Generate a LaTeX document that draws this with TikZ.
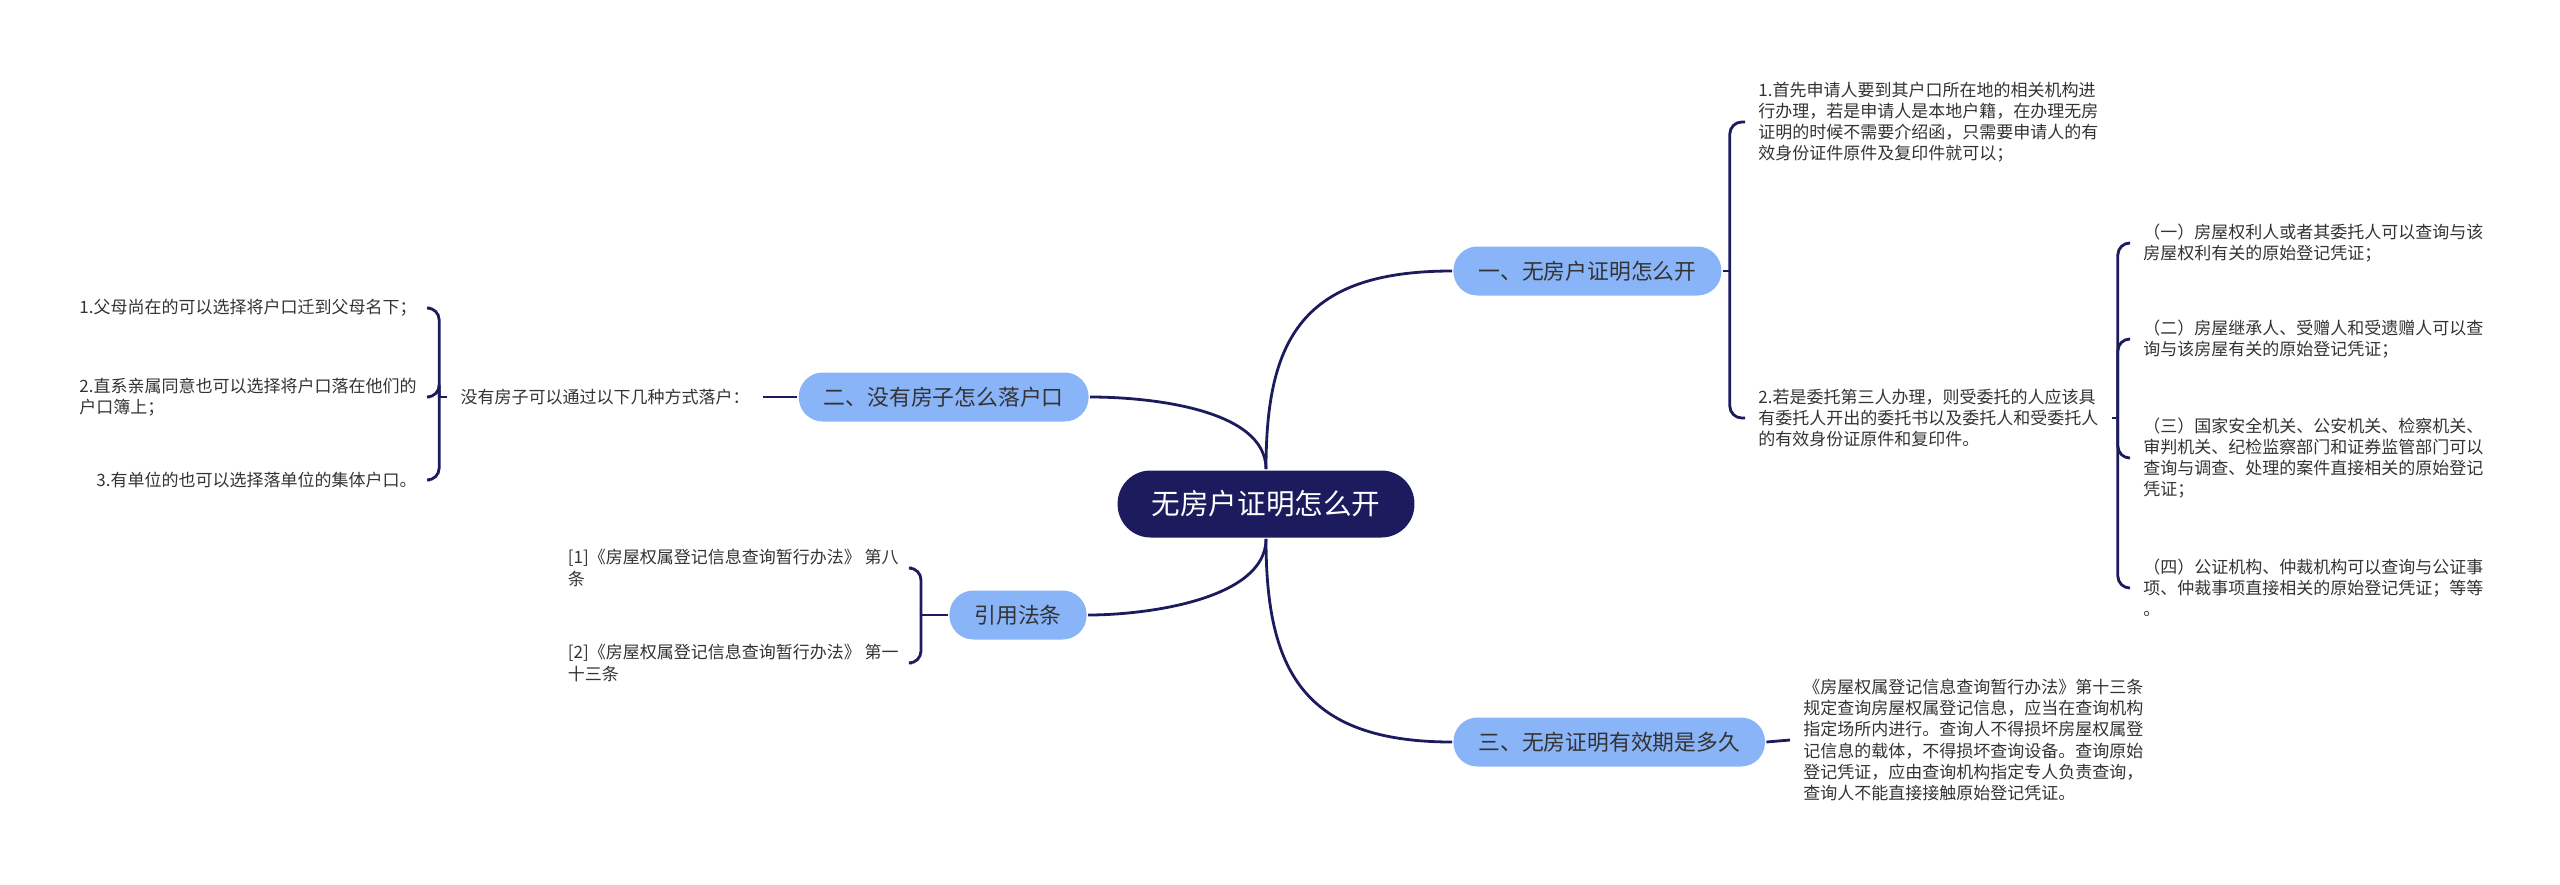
\documentclass[tikz,border=0pt]{standalone}
\usepackage{fontspec}
\setmainfont{Noto Sans CJK SC}
\definecolor{xanhdam}{HTML}{1B1B5E}
\definecolor{xanhnhat}{HTML}{8AB4F8}
\definecolor{chu}{HTML}{333333}
\begin{document}
\begin{tikzpicture}[x=0.5pt, y=-0.5pt, line width=1.4pt, draw=xanhdam,
	tam/.style={fill=xanhdam, text=white, rounded corners=16.5pt, minimum height=33.5pt, inner xsep=17pt, font=\fontsize{14.3pt}{16pt}\selectfont},
	nhanh/.style={fill=xanhnhat, text=chu, rounded corners=12pt, minimum height=24.5pt, inner xsep=12.5pt, font=\fontsize{10.9pt}{13pt}\selectfont},
	la/.style={text=chu, align=left, inner xsep=6pt, inner ysep=1pt, font=\fontsize{8.5pt}{10.6pt}\selectfont},
	noi/.style={draw=xanhdam, rounded corners=6pt}]
	\useasboundingbox (0,0) rectangle (2560,884);
	\node[tam] (goc) at (1266,504) {无房户证明怎么开};
	\node[nhanh, anchor=west] (n1) at (1452,271) {一、无房户证明怎么开};
	\node[nhanh, anchor=east] (n2) at (1090,397) {二、没有房子怎么落户口};
	\node[nhanh, anchor=east] (n3) at (1088,615) {引用法条};
	\node[nhanh, anchor=west] (n4) at (1452,742) {三、无房证明有效期是多久};
	\draw (goc.north) .. controls +(0,-130) and +(-150,0) .. (n1.west);
	\draw (goc.north) .. controls +(0,-60) and +(60,0) .. (n2.east);
	\draw (goc.south) .. controls +(0,60) and +(60,0) .. (n3.east);
	\draw (goc.south) .. controls +(0,130) and +(-150,0) .. (n4.west);
	\node[la, anchor=west] (n1a) at (1745,122) {1.首先申请人要到其户口所在地的相关机构进\\行办理，若是申请人是本地户籍，在办理无房\\证明的时候不需要介绍函，只需要申请人的有\\效身份证件原件及复印件就可以；};
	\node[la, anchor=west] (n1b) at (1745,418) {2.若是委托第三人办理，则受委托的人应该具\\有委托人开出的委托书以及委托人和受委托人\\的有效身份证原件和复印件。};
	\coordinate (j1) at ([xshift=3.5pt]n1.east);
	\draw (n1.east) -- (j1);
	\draw[noi] (j1) |- (n1a.west);
	\draw[noi] (j1) |- (n1b.west);
	\node[la, anchor=west] (n1b1) at (2130,243) {（一）房屋权利人或者其委托人可以查询与该\\房屋权利有关的原始登记凭证；};
	\node[la, anchor=west] (n1b2) at (2130,339) {（二）房屋继承人、受赠人和受遗赠人可以查\\询与该房屋有关的原始登记凭证；};
	\node[la, anchor=west] (n1b3) at (2130,458) {（三）国家安全机关、公安机关、检察机关、\\审判机关、纪检监察部门和证券监管部门可以\\查询与调查、处理的案件直接相关的原始登记\\凭证；};
	\node[la, anchor=west] (n1b4) at (2130,588) {（四）公证机构、仲裁机构可以查询与公证事\\项、仲裁事项直接相关的原始登记凭证；等等\\。};
	\coordinate (j2) at ([xshift=3pt]n1b.east);
	\draw (n1b.east) -- (j2);
	\foreach \i in {1,...,4} \draw[noi] (j2) |- (n1b\i.west);
	\node[la, anchor=west] (n4a) at (1790,740) {《房屋权属登记信息查询暂行办法》第十三条\\规定查询房屋权属登记信息，应当在查询机构\\指定场所内进行。查询人不得损坏房屋权属登\\记信息的载体，不得损坏查询设备。查询原始\\登记凭证，应由查询机构指定专人负责查询，\\查询人不能直接接触原始登记凭证。};
	\draw (n4.east) -- (n4a.west);
	\node[la, anchor=east] (n2s) at (763,397) {没有房子可以通过以下几种方式落户：};
	\draw (n2.west) -- (n2s.east);
	\node[la, anchor=east] (n2a) at (430,308) {1.父母尚在的可以选择将户口迁到父母名下；};
	\node[la, anchor=east] (n2b) at (430,397) {2.直系亲属同意也可以选择将户口落在他们的\\户口簿上；};
	\node[la, anchor=east] (n2c) at (430,480) {3.有单位的也可以选择落单位的集体户口。};
	\coordinate (j3) at ([xshift=-4pt]n2s.west);
	\draw (n2s.west) -- (j3);
	\foreach \i in {a,b,c} \draw[noi] (j3) |- (n2\i.east);
	\node[la, anchor=east] (n3a) at (912,568) {[1]《房屋权属登记信息查询暂行办法》 第八\\条};
	\node[la, anchor=east] (n3b) at (912,663) {[2]《房屋权属登记信息查询暂行办法》 第一\\十三条};
	\coordinate (j4) at ([xshift=-13.5pt]n3.west);
	\draw (n3.west) -- (j4);
	\foreach \i in {a,b} \draw[noi] (j4) |- (n3\i.east);
\end{tikzpicture}
\end{document}
